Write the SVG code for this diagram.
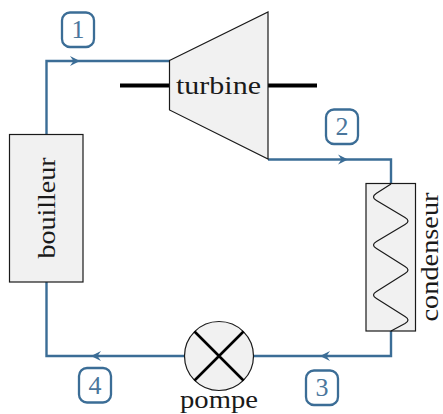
<svg xmlns="http://www.w3.org/2000/svg" width="443" height="414" viewBox="0 0 443 414">
<style>
.pipe{fill:none;stroke:#3b6d96;stroke-width:2.4;stroke-linejoin:miter}
.part{fill:#f1f1f1;stroke:#1a1a1a;stroke-width:1.2}
.shaft{fill:none;stroke:#000;stroke-width:4}
.cross{fill:none;stroke:#000;stroke-width:2.6}
.coil{fill:none;stroke:#1a1a1a;stroke-width:1.2}
.badge{fill:#fff;stroke:#3b6d96;stroke-width:2.3}
.lbl{font-family:"Liberation Serif","Times New Roman",serif;font-size:25px;fill:#1a1a1a;text-anchor:middle}
.num{font-family:"Liberation Serif","Times New Roman",serif;font-size:26px;fill:#4a769c;text-anchor:middle}
.head{fill:#3b6d96}
</style>
<g id="connectors">
<path class="pipe" d="M46.500 135V61H170"/>
<path class="pipe" d="M268 159.500H391V184"/>
<path class="pipe" d="M391 331V356H253"/>
<path class="pipe" d="M185 356H46.500V282"/>
<path class="head" d="M80 61L70 56L73.500 61L70 66Z"/>
<path class="head" d="M348 159.500L338 154.500L341.500 159.500L338 164.500Z"/>
<path class="head" d="M320 356L330 351L326.500 356L330 361Z"/>
<path class="head" d="M91 356L101 351L97.500 356L101 361Z"/>
</g>
<g id="turbine">
<path class="shaft" d="M120 85.500H170M268 85.500H317"/>
<path class="part" d="M169.500 60.500L268 12V159L169.500 110Z"/>
<text class="lbl" x="218.500" y="94" textLength="85" lengthAdjust="spacingAndGlyphs">turbine</text>
</g>
<g id="bouilleur">
<rect class="part" x="9.500" y="134.500" width="73.500" height="147.500"/>
<text class="lbl" transform="translate(54.500 208) rotate(-90)" textLength="101" lengthAdjust="spacingAndGlyphs">bouilleur</text>
</g>
<g id="condenseur">
<rect class="part" x="366" y="183.500" width="49.500" height="147.500"/>
<path class="coil" d="M391 184L376.500 193.200Q370.500 197 376.500 200.600L405 217.400Q411 221 405 224.600L376.500 241.400Q370.500 245 376.500 248.600L405 266.400Q411 270 405 273.600L376.500 291.400Q370.500 295 376.500 298.600L405 316.400Q411 320 405 323.600L391 331"/>
<text class="lbl" transform="translate(438 257) rotate(-90)" textLength="129" lengthAdjust="spacingAndGlyphs">condenseur</text>
</g>
<g id="pompe">
<circle class="part" cx="219" cy="356" r="34.500"/>
<path class="cross" d="M194.500 331.500L243.500 380.500M243.500 331.500L194.500 380.500"/>
<text class="lbl" x="219" y="408" textLength="78" lengthAdjust="spacingAndGlyphs">pompe</text>
</g>
<g id="badge1"><rect class="badge" x="62" y="12.500" width="32" height="34.500" rx="8"/><text class="num" x="78" y="38">1</text></g>
<g id="badge2"><rect class="badge" x="326" y="109.500" width="32" height="34.500" rx="8"/><text class="num" x="342" y="135">2</text></g>
<g id="badge3"><rect class="badge" x="306" y="370.500" width="32" height="34.500" rx="8"/><text class="num" x="322" y="396">3</text></g>
<g id="badge4"><rect class="badge" x="79" y="368" width="32" height="34.500" rx="8"/><text class="num" x="95" y="393.500">4</text></g>
</svg>
